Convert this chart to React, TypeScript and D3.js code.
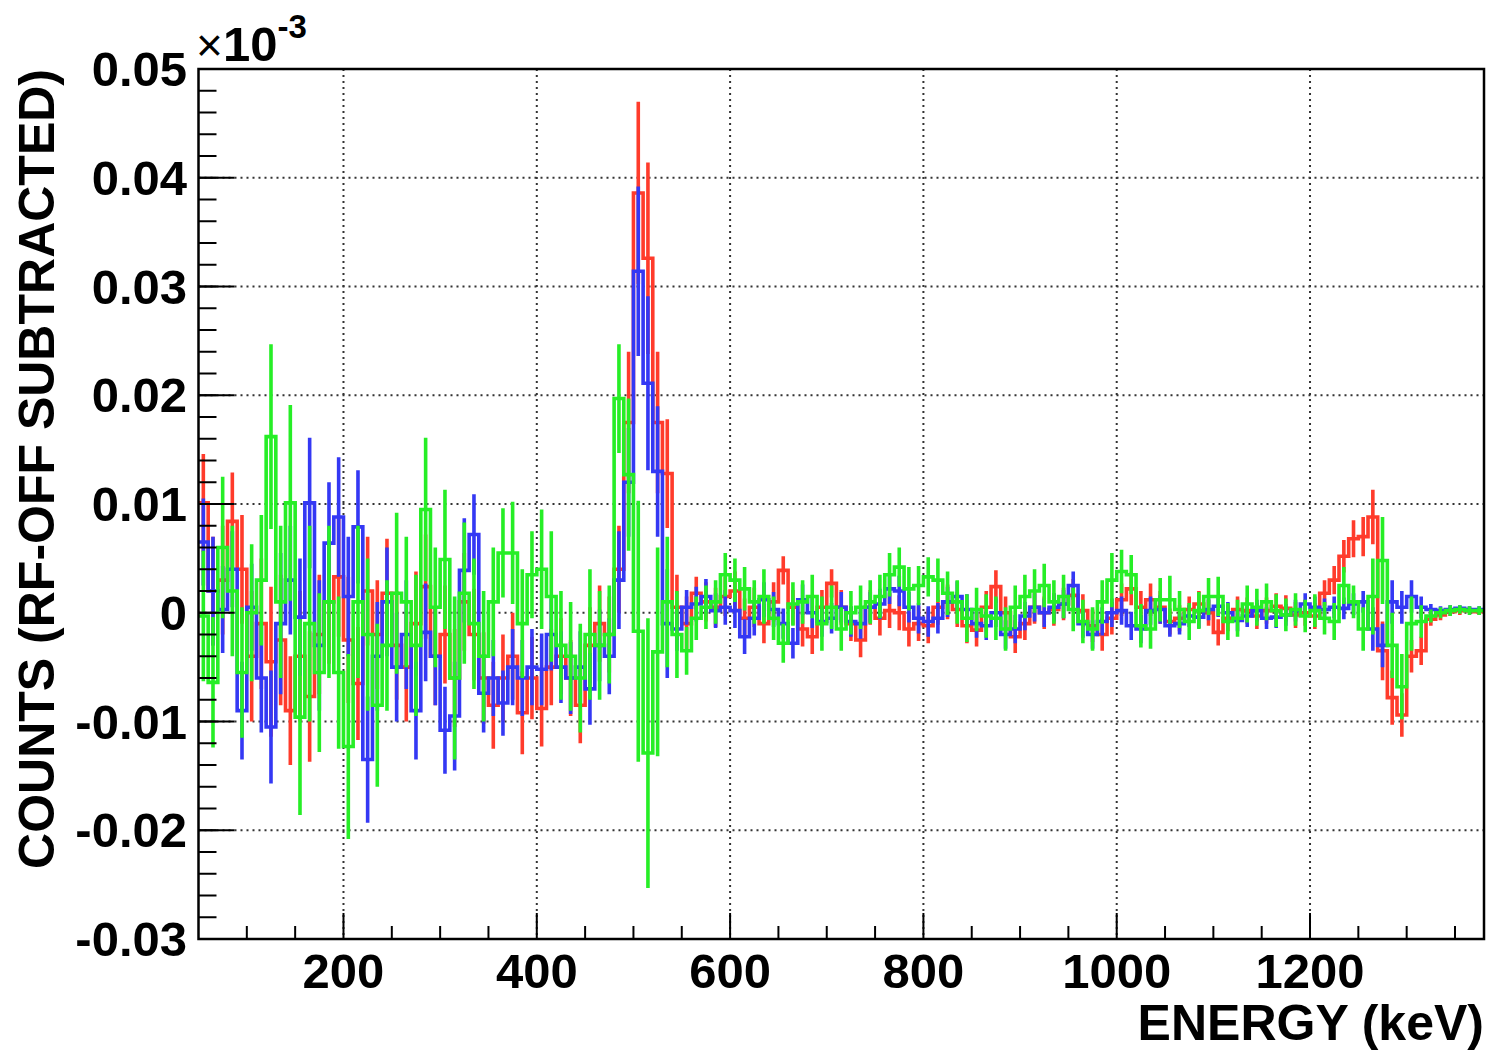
import React from 'react';
import * as d3 from 'd3';

// Histogram binning (keV)
const BIN_LOW = 50;
const BIN_WIDTH = 10;

const redCounts = [
  0.0101, 0.002, 0.003, 0.0084, 0.004, -0.004, -0.001, -0.0045, -0.0025, -0.009,
  -0.004, -0.0077, -0.002, 0.001, 0.0033, -0.0025, -0.0065, 0.002, -0.002, 0.0018,
  -0.003, -0.005, -0.001, 0.0024, -0.004, -0.002, -0.006, 0.001, -0.002, -0.006,
  -0.0085, -0.006, -0.004, -0.0092, -0.006, -0.0088, -0.005, -0.004, -0.006, -0.0085,
  -0.003, -0.001, -0.002, 0.004, 0.0175, 0.0386, 0.0326, 0.0175, 0.0128, 0.0005,
  -0.001, 0.0018, 0.001, 0.0005, 0.0015, 0.002, -0.0005, 0.0005, -0.001, 0.001,
  0.0039, 0.0005, -0.0015, -0.0022, 0.0005, 0.0027, 0.0005, -0.001, -0.0025, 0.0005,
  -0.0005, 0.0002, 0, -0.0015, -0.001, -0.0012, 0.0005, 0.001, 0.0003, -0.0012,
  -0.0016, 0.0005, 0.0024, 0, -0.0022, -0.001, 0.0005, 0, 0.0003, 0.0008,
  0.0016, 0.0002, -0.0012, -0.002, -0.0005, 0.0012, 0.0022, 0.0005, 0.0012, 0.0005,
  -0.0008, -0.0005, 0.0003, 0.0008, 0, -0.0018, -0.0005, 0.0003, 0.0002, -0.0003,
  0.0002, 0.0006, 0.0004, -0.0002, 0, -0.0003, 0.0018, 0.003, 0.0052, 0.0068,
  0.007, 0.0088, -0.0035, -0.0078, -0.0094, -0.004, -0.0035, -0.0006, -0.0002, 0.0001,
  0.0002, 0.0002, 0.0001,
];
const redErrors = [
  0.0045, 0.005, 0.005, 0.0045, 0.005, 0.006, 0.006, 0.0069, 0.006, 0.005,
  0.006, 0.006, 0.0055, 0.0057, 0.0055, 0.0058, 0.0052, 0.005, 0.005, 0.005,
  0.005, 0.005, 0.0048, 0.0048, 0.0045, 0.0045, 0.0045, 0.0045, 0.0042, 0.0042,
  0.004, 0.004, 0.004, 0.0038, 0.0038, 0.0035, 0.0035, 0.0035, 0.0035, 0.0035,
  0.0035, 0.0035, 0.0035, 0.004, 0.0065, 0.0084, 0.0088, 0.0065, 0.005, 0.003,
  0.0025, 0.0015, 0.0018, 0.0018, 0.0018, 0.0018, 0.0018, 0.0018, 0.0018, 0.0018,
  0.0013, 0.0016, 0.0016, 0.0016, 0.0016, 0.0013, 0.0016, 0.0016, 0.0016, 0.0016,
  0.0016, 0.0016, 0.0016, 0.0016, 0.0016, 0.0016, 0.0016, 0.0016, 0.0016, 0.0016,
  0.0015, 0.0015, 0.0015, 0.0015, 0.0015, 0.0015, 0.0015, 0.0015, 0.0015, 0.0015,
  0.0015, 0.0015, 0.0015, 0.0015, 0.0015, 0.0015, 0.0015, 0.0015, 0.0015, 0.0015,
  0.0012, 0.0012, 0.0012, 0.0012, 0.0012, 0.0012, 0.0012, 0.0012, 0.0012, 0.0012,
  0.0012, 0.0012, 0.0012, 0.0012, 0.0012, 0.0012, 0.0012, 0.0013, 0.0015, 0.0017,
  0.0018, 0.0025, 0.0027, 0.0025, 0.002, 0.0015, 0.0013, 0.0006, 0.0005, 0.0004,
  0.0004, 0.0003, 0.0003,
];

const blueCounts = [
  0.0065, 0.002, 0.0003, 0.004, -0.009, 0.0005, -0.006, -0.0105, -0.001, 0.003,
  -0.0004, 0.0101, -0.003, 0.0064, 0.0088, 0.0015, 0.0079, -0.0135, -0.004, 0.001,
  -0.005, -0.002, -0.009, -0.0018, -0.004, -0.0108, -0.0095, 0.0039, 0.0072, -0.0074,
  -0.006, -0.0083, -0.005, -0.006, -0.005, -0.0052, -0.002, -0.005, -0.006, -0.005,
  -0.007, -0.003, -0.004, 0.003, 0.012, 0.0314, 0.0211, 0.013, -0.001, -0.0015,
  0.0005, 0.0008, 0.0015, 0.0002, 0.0005, 0.0002, -0.0022, -0.0005, 0.0012, 0.0003,
  -0.001, -0.0028, 0.0012, 0, -0.0008, -0.0005, 0.0005, -0.0008, -0.001, 0.0005,
  0.0008, 0.0022, 0.002, 0.0005, -0.0005, -0.0008, -0.0005, 0.001, 0.0015, 0.0003,
  -0.001, -0.0012, 0, -0.002, -0.0015, -0.0003, 0.0005, 0, 0.0005, 0.0008,
  0.0025, -0.001, -0.002, -0.0008, 0, 0.0002, -0.0012, -0.0015, 0.0002, 0.0003,
  -0.0012, -0.001, -0.0003, -0.0004, 0.0003, 0.0006, 0, -0.0007, -0.0003, 0.0002,
  -0.0005, -0.0004, -0.0002, 0.0002, 0.0008, 0.0005, 0.0003, 0.0005, 0.0004, 0.0008,
  0.001, -0.0015, -0.003, 0.001, 0.0005, 0.0015, 0.0005, 0.0003, 0.0002, 0.0003,
  0.0004, 0.0003, 0.0003,
];
const blueErrors = [
  0.004, 0.005, 0.004, 0.0035, 0.0045, 0.004, 0.005, 0.0052, 0.0065, 0.005,
  0.0054, 0.006, 0.006, 0.0056, 0.0055, 0.0055, 0.0052, 0.0058, 0.005, 0.005,
  0.005, 0.005, 0.0045, 0.0045, 0.0045, 0.004, 0.005, 0.0048, 0.0037, 0.0036,
  0.0035, 0.003, 0.0035, 0.0035, 0.0035, 0.0033, 0.0033, 0.0033, 0.0033, 0.0033,
  0.0033, 0.0033, 0.0035, 0.0045, 0.005, 0.0078, 0.008, 0.006, 0.005, 0.002,
  0.0016, 0.0016, 0.0016, 0.0016, 0.0016, 0.0016, 0.0016, 0.0016, 0.0016, 0.0016,
  0.0014, 0.0014, 0.0014, 0.0014, 0.0014, 0.0014, 0.0014, 0.0014, 0.0014, 0.0014,
  0.0014, 0.0014, 0.0014, 0.0014, 0.0014, 0.0014, 0.0014, 0.0014, 0.0014, 0.0014,
  0.0013, 0.0013, 0.0013, 0.0013, 0.0013, 0.0013, 0.0013, 0.0013, 0.0013, 0.0013,
  0.0013, 0.0013, 0.0013, 0.0013, 0.0013, 0.0013, 0.0013, 0.0013, 0.0013, 0.0013,
  0.001, 0.001, 0.001, 0.001, 0.001, 0.001, 0.001, 0.001, 0.001, 0.001,
  0.001, 0.001, 0.001, 0.001, 0.001, 0.001, 0.001, 0.001, 0.001, 0.001,
  0.001, 0.002, 0.002, 0.002, 0.0015, 0.0015, 0.001, 0.0005, 0.0004, 0.0004,
  0.0003, 0.0003, 0.0003,
];

const greenCounts = [
  -0.0003, -0.0064, 0.006, 0.002, -0.0055, 0, 0.003, 0.0162, 0.001, 0.0101,
  -0.0096, -0.001, -0.0055, 0.001, -0.0055, -0.0123, 0.001, -0.002, -0.0085, -0.003,
  0.0018, 0.001, -0.003, 0.0095, 0.0005, 0.0049, -0.006, 0.0018, -0.001, -0.004,
  0.001, 0.0055, 0.0055, -0.001, 0.0035, 0.004, 0.0015, -0.003, -0.004, -0.006,
  -0.002, -0.003, -0.002, 0.0197, 0.0127, -0.0017, -0.0129, -0.0036, 0.001, -0.002,
  -0.0035, -0.0005, 0.0005, 0.001, 0.0035, 0.003, 0.0022, 0.001, 0.0015, -0.0005,
  -0.0028, 0.0008, 0.001, 0.0015, -0.001, 0.0005, -0.0015, 0, 0.0005, 0.001,
  0.0015, 0.0035, 0.0042, 0.0022, 0.0025, 0.0033, 0.003, 0.0018, 0.001, -0.0005,
  0.0003, -0.0003, -0.0005, -0.0015, 0.0005, 0.0015, 0.002, 0.0025, 0.001, 0.0015,
  0.0003, -0.0008, -0.0015, 0.001, 0.003, 0.0038, 0.0035, -0.0012, -0.0015, 0.0012,
  0.0012, 0.0003, -0.0008, 0.0002, 0.0015, 0.0015, -0.0008, -0.0005, 0.0008, 0.0005,
  0.001, 0.0002, -0.0002, 0.0003, -0.0003, 0.0002, -0.0005, -0.0008, 0.0025, 0.001,
  -0.0015, 0.0015, 0.0048, -0.003, -0.0068, -0.001, -0.0008, -0.0003, 0, 0.0002,
  0.0003, 0.0002, 0.0002,
];
const greenErrors = [
  0.006, 0.006, 0.0065, 0.006, 0.006, 0.0063, 0.006, 0.0085, 0.007, 0.009,
  0.009, 0.009, 0.0073, 0.007, 0.007, 0.0085, 0.007, 0.007, 0.0075, 0.006,
  0.0074, 0.006, 0.0065, 0.0066, 0.0055, 0.0064, 0.0075, 0.0065, 0.006, 0.006,
  0.005, 0.0041, 0.0047, 0.005, 0.004, 0.0055, 0.006, 0.005, 0.005, 0.005,
  0.006, 0.005, 0.0045, 0.005, 0.007, 0.012, 0.0124, 0.0096, 0.006, 0.004,
  0.0022, 0.002, 0.002, 0.002, 0.002, 0.002, 0.002, 0.002, 0.0025, 0.002,
  0.0018, 0.002, 0.002, 0.002, 0.0025, 0.002, 0.002, 0.002, 0.002, 0.002,
  0.002, 0.002, 0.0018, 0.002, 0.0018, 0.0018, 0.002, 0.002, 0.002, 0.0022,
  0.002, 0.002, 0.002, 0.002, 0.002, 0.002, 0.002, 0.002, 0.002, 0.002,
  0.002, 0.002, 0.002, 0.002, 0.0025, 0.002, 0.0018, 0.002, 0.0018, 0.002,
  0.0022, 0.0017, 0.0017, 0.0017, 0.0017, 0.0018, 0.0017, 0.0017, 0.0017, 0.0017,
  0.0017, 0.0015, 0.0015, 0.0015, 0.0015, 0.0015, 0.0015, 0.0017, 0.0017, 0.0015,
  0.002, 0.0035, 0.004, 0.003, 0.003, 0.0025, 0.0015, 0.0006, 0.0005, 0.0005,
  0.0004, 0.0004, 0.0004,
];

const xTickValues = [200, 400, 600, 800, 1000, 1200];
const xTickLabels = ['200', '400', '600', '800', '1000', '1200'];
const yTickValues = [-0.03, -0.02, -0.01, 0, 0.01, 0.02, 0.03, 0.04, 0.05];
const yTickLabels = ['-0.03', '-0.02', '-0.01', '0', '0.01', '0.02', '0.03', '0.04', '0.05'];

const FONT = '"Liberation Sans", Arial, Helvetica, sans-serif';

export default function App() {
  const W = 1490;
  const H = 1053;
  const left = 198.5, right = 1484, top = 69, bottom = 939;
  const x = d3.scaleLinear().domain([50, 1380]).range([left, right]);
  const y = d3.scaleLinear().domain([-0.03, 0.05]).range([bottom, top]);

  const series = [
    { key: 'red', values: redCounts, errors: redErrors, color: '#ff3b2b' },
    { key: 'blue', values: blueCounts, errors: blueErrors, color: '#3438f4' },
    { key: 'green', values: greenCounts, errors: greenErrors, color: '#26ee26' },
  ];

  const stepLine = d3
    .line<[number, number]>()
    .x((d) => x(d[0]))
    .y((d) => y(d[1]))
    .curve(d3.curveStepAfter);

  const stepPath = (vals: number[]) => {
    const pts: [number, number][] = vals.map((v, i) => [BIN_LOW + i * BIN_WIDTH, v]);
    pts.push([BIN_LOW + vals.length * BIN_WIDTH, vals[vals.length - 1]]);
    return stepLine(pts) || '';
  };
  const errPath = (vals: number[], errs: number[]) =>
    vals
      .map((v, i) => {
        const cx = x(BIN_LOW + (i + 0.5) * BIN_WIDTH);
        return `M${cx},${y(v - errs[i])}V${y(v + errs[i])}`;
      })
      .join('');

  const xMinor = d3.range(100, 1380, 50).filter((v) => v % 200 !== 0);
  const yMinor = d3.range(-0.03, 0.0501, 0.002);

  return (
    <svg width={W} height={H} style={{ position: 'absolute', left: 0, top: 0, background: '#fff' }}>
      <rect x={0} y={0} width={W} height={H} fill="#fff" />
      <defs>
        <clipPath id="plotclip">
          <rect x={left} y={top} width={right - left} height={bottom - top} />
        </clipPath>
      </defs>
      {/* grid */}
      <g stroke="#333" strokeWidth={2} strokeDasharray="2 4">
        {xTickValues.map((v) => (
          <line key={'gx' + v} x1={x(v)} x2={x(v)} y1={top} y2={bottom} />
        ))}
        {yTickValues.slice(1, -1).map((v) => (
          <line key={'gy' + v} x1={left} x2={right} y1={y(v)} y2={y(v)} />
        ))}
      </g>
      {/* data */}
      <g clipPath="url(#plotclip)" fill="none" strokeWidth={3.6}>
        {series.map((s) => (
          <g key={s.key} stroke={s.color}>
            <path d={stepPath(s.values)} />
            <path d={errPath(s.values, s.errors)} />
          </g>
        ))}
      </g>
      {/* ticks */}
      <g stroke="#000" strokeWidth={2}>
        {xTickValues.map((v) => (
          <line key={'tx' + v} x1={x(v)} x2={x(v)} y1={bottom} y2={bottom - 26} />
        ))}
        {xMinor.map((v) => (
          <line key={'mx' + v} x1={x(v)} x2={x(v)} y1={bottom} y2={bottom - 13} />
        ))}
        {yTickValues.map((v) => (
          <line key={'ty' + v} x1={left} x2={left + 36} y1={y(v)} y2={y(v)} />
        ))}
        {yMinor.map((v, i) => (
          <line key={'my' + i} x1={left} x2={left + 18} y1={y(v)} y2={y(v)} />
        ))}
      </g>
      <rect x={left} y={top} width={right - left} height={bottom - top} fill="none" stroke="#000" strokeWidth={2.5} />
      {/* tick labels */}
      <g fontFamily={FONT} fontWeight="bold" fontSize={49} fill="#000">
        {xTickValues.map((v, i) => (
          <text key={'lx' + v} x={x(v)} y={988} textAnchor="middle">
            {xTickLabels[i]}
          </text>
        ))}
        {yTickValues.map((v, i) => (
          <text key={'ly' + v} x={187} y={y(v) + 17} textAnchor="end">
            {yTickLabels[i]}
          </text>
        ))}
        <text x={right} y={1040} textAnchor="end" fontSize={50}>
          ENERGY (keV)
        </text>
        <text transform="translate(54,69) rotate(-90)" textAnchor="end" fontSize={50}>
          COUNTS (RF-OFF SUBTRACTED)
        </text>
        <text x={196} y={61}>
          <tspan fontWeight="normal" fontSize={46}>×</tspan>
          <tspan>10</tspan>
          <tspan fontSize={33} dy={-23}>-3</tspan>
        </text>
      </g>
    </svg>
  );
}
